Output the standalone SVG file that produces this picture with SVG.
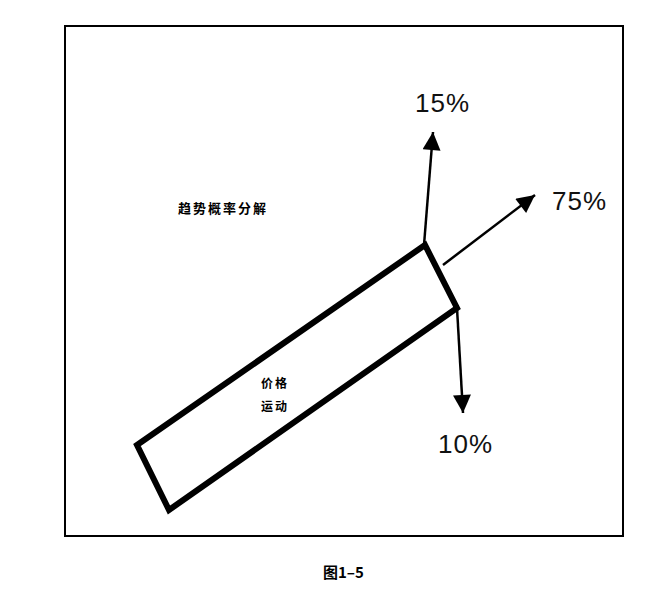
<svg xmlns="http://www.w3.org/2000/svg" width="656" height="600" viewBox="0 0 656 600">
<defs>
<marker id="ah" viewBox="0 0 10 10" refX="10" refY="5" markerWidth="20" markerHeight="18" markerUnits="userSpaceOnUse" orient="auto">
<path d="M0,0 L10,5 L0,10 Z" fill="#000"/>
</marker>
</defs>
<style>
.cjk{font-family:"Noto Sans CJK SC","Liberation Sans",sans-serif;font-weight:bold;fill:#000}
.num{font-family:"Liberation Sans",Arial,sans-serif;font-size:26px;fill:#111}
.conn{stroke:#000;stroke-width:2.5;fill:none}
</style>
<rect width="656" height="600" fill="#fff"/>
<rect id="frame" x="65" y="26" width="558" height="510" fill="none" stroke="#000" stroke-width="2"/>
<g id="price-box">
<polygon points="137,445 425,245 457,308 169,510" fill="none" stroke="#000" stroke-width="6" stroke-linejoin="miter"/>
<text class="cjk" x="275" y="388" font-size="12" text-anchor="middle" letter-spacing="2">价格</text>
<text class="cjk" x="275" y="411" font-size="12" text-anchor="middle" letter-spacing="2">运动</text>
</g>
<g id="title-label">
<text class="cjk" x="178" y="213" font-size="13" letter-spacing="2">趋势概率分解</text>
</g>
<g id="connectors">
<line class="conn" x1="424" y1="245" x2="433" y2="132" marker-end="url(#ah)"/>
<line class="conn" x1="443" y1="265" x2="535" y2="195" stroke-width="1.6" marker-end="url(#ah)"/>
<line class="conn" x1="457" y1="308" x2="463" y2="413" marker-end="url(#ah)"/>
</g>
<g id="label-15"><text class="num" x="415" y="112" letter-spacing="1">15%</text></g>
<g id="label-75"><text class="num" x="552" y="210" letter-spacing="1">75%</text></g>
<g id="label-10"><text class="num" x="438" y="453" letter-spacing="1">10%</text></g>
<g id="caption"><text class="cjk" x="323" y="578" font-size="15">图1–5</text></g>
</svg>
